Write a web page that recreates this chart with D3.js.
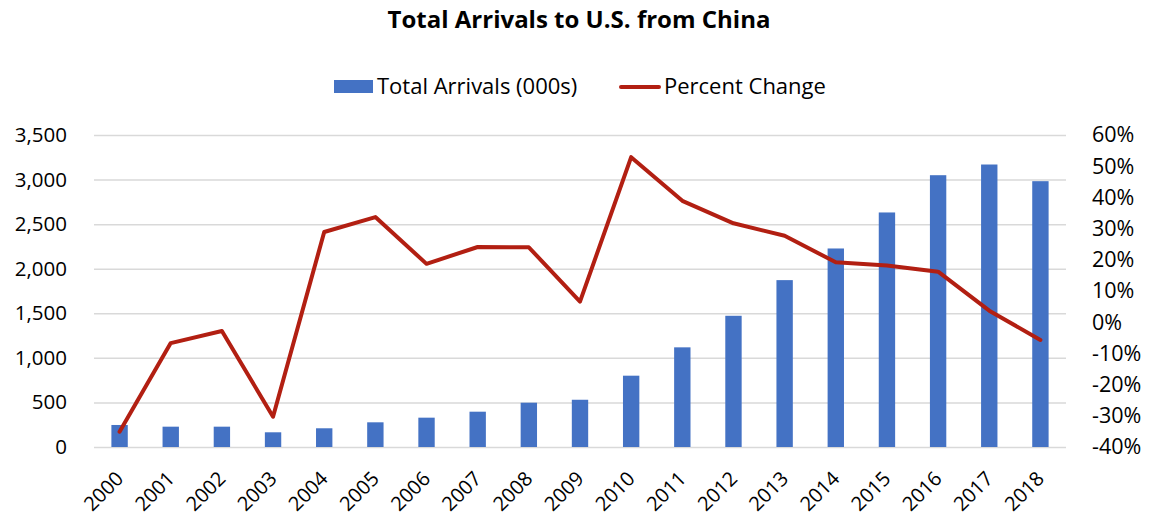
<!DOCTYPE html>
<html>
<head>
<meta charset="utf-8">
<script src="https://cdn.jsdelivr.net/npm/d3@7"></script>
<style>
  body { margin: 0; background: #fff; }
  text { font-family: "Open Sans", sans-serif; fill: #000; }
  .grid line { stroke: #d9d9d9; stroke-width: 1.5; }
  .grid path { display: none; }
</style>
</head>
<body>
<svg width="1152" height="519"></svg>
<script>
// chart data
var years = ['2000','2001','2002','2003','2004','2005','2006','2007','2008','2009',
    '2010','2011','2012','2013','2014','2015','2016','2017','2018'];
var arrivals = [247, 228, 228, 165, 210, 277, 329, 396, 497, 530,
    800, 1118, 1472, 1872, 2227, 2631, 3049, 3169, 2982];
var pctChange = [-35.1, -6.7, -2.8, -30.3, 28.9, 33.7, 18.7, 24.1, 24.0, 6.6,
    52.9, 38.9, 31.7, 27.7, 19.2, 18.2, 16.2, 3.7, -5.7];
var leftTicks = [0, 500, 1000, 1500, 2000, 2500, 3000, 3500];
var rightTicks = [-40, -30, -20, -10, 0, 10, 20, 30, 40, 50, 60];

var svg = d3.select('svg');
var padding = {t: 135, r: 86, b: 72, l: 94};
var chartWidth = 1152 - padding.l - padding.r;
var chartHeight = 519 - padding.t - padding.b;

var chartG = svg.append('g')
    .attr('transform', 'translate(' + [padding.l, padding.t] + ')');

var xScale = d3.scaleBand().domain(years).range([0, chartWidth]).paddingInner(0.68).paddingOuter(0.34);
var yScale = d3.scaleLinear().domain([0, 3500]).range([chartHeight, 0]);
var pScale = d3.scaleLinear().domain([-40, 60]).range([chartHeight, 0]);

// grid lines
chartG.append('g')
    .attr('class', 'grid')
    .call(d3.axisLeft(yScale).tickValues(leftTicks).tickSize(-chartWidth).tickFormat(''));

// bars
chartG.selectAll('.bar')
    .data(arrivals)
    .enter()
    .append('rect')
    .attr('class', 'bar')
    .attr('x', function(d, i) { return xScale(years[i]); })
    .attr('width', xScale.bandwidth())
    .attr('y', function(d) { return yScale(d); })
    .attr('height', function(d) { return chartHeight - yScale(d); })
    .style('fill', '#4472c4');

// percent change line
var line = d3.line()
    .x(function(d, i) { return xScale(years[i]) + xScale.bandwidth() / 2; })
    .y(function(d) { return pScale(d); });

chartG.append('path')
    .datum(pctChange)
    .attr('d', line)
    .style('fill', 'none')
    .style('stroke', '#b21f12')
    .style('stroke-width', 4)
    .style('stroke-linejoin', 'round')
    .style('stroke-linecap', 'round');

// left axis labels
var leftAxis = chartG.append('g')
    .call(d3.axisLeft(yScale).tickValues(leftTicks).tickSize(0).tickPadding(27).tickFormat(d3.format(',')));
leftAxis.select('.domain').remove();
leftAxis.selectAll('text').style('font-size', '20.5px').style('font-family', '"Open Sans", sans-serif').attr('fill', '#000');

// right axis labels
var rightAxis = chartG.append('g')
    .attr('transform', 'translate(' + chartWidth + ',0)')
    .call(d3.axisRight(pScale).tickValues(rightTicks).tickSize(0).tickPadding(26)
        .tickFormat(function(d) { return d + '%'; }));
rightAxis.select('.domain').remove();
rightAxis.selectAll('text').style('font-size', '21.5px').style('font-family', '"Open Sans", sans-serif').attr('fill', '#000');

// x axis labels, rotated
var xAxis = chartG.append('g')
    .attr('transform', 'translate(0,' + chartHeight + ')')
    .call(d3.axisBottom(xScale).tickSize(0).tickPadding(0));
xAxis.select('.domain').remove();
xAxis.selectAll('text')
    .style('font-size', '20px')
    .style('font-family', '"Open Sans", sans-serif')
    .attr('fill', '#000')
    .attr('text-anchor', 'end')
    .attr('y', 0)
    .attr('dy', '0')
    .attr('transform', 'translate(5,33) rotate(-45)');

// title
svg.append('text')
    .attr('x', 579)
    .attr('y', 28)
    .attr('text-anchor', 'middle')
    .style('font-size', '24px')
    .style('font-weight', 'bold')
    .text('Total Arrivals to U.S. from China');

// legend
var legend = svg.append('g');
legend.append('rect')
    .attr('x', 334).attr('y', 80).attr('width', 39).attr('height', 13)
    .style('fill', '#4472c4');
legend.append('text')
    .attr('x', 377).attr('y', 94)
    .style('font-size', '22px')
    .text('Total Arrivals (000s)');
legend.append('line')
    .attr('x1', 621).attr('x2', 659).attr('y1', 87).attr('y2', 87)
    .style('stroke', '#b21f12').style('stroke-width', 4).style('stroke-linecap', 'round');
legend.append('text')
    .attr('x', 664).attr('y', 94)
    .style('font-size', '22px')
    .text('Percent Change');
</script>
</body>
</html>
